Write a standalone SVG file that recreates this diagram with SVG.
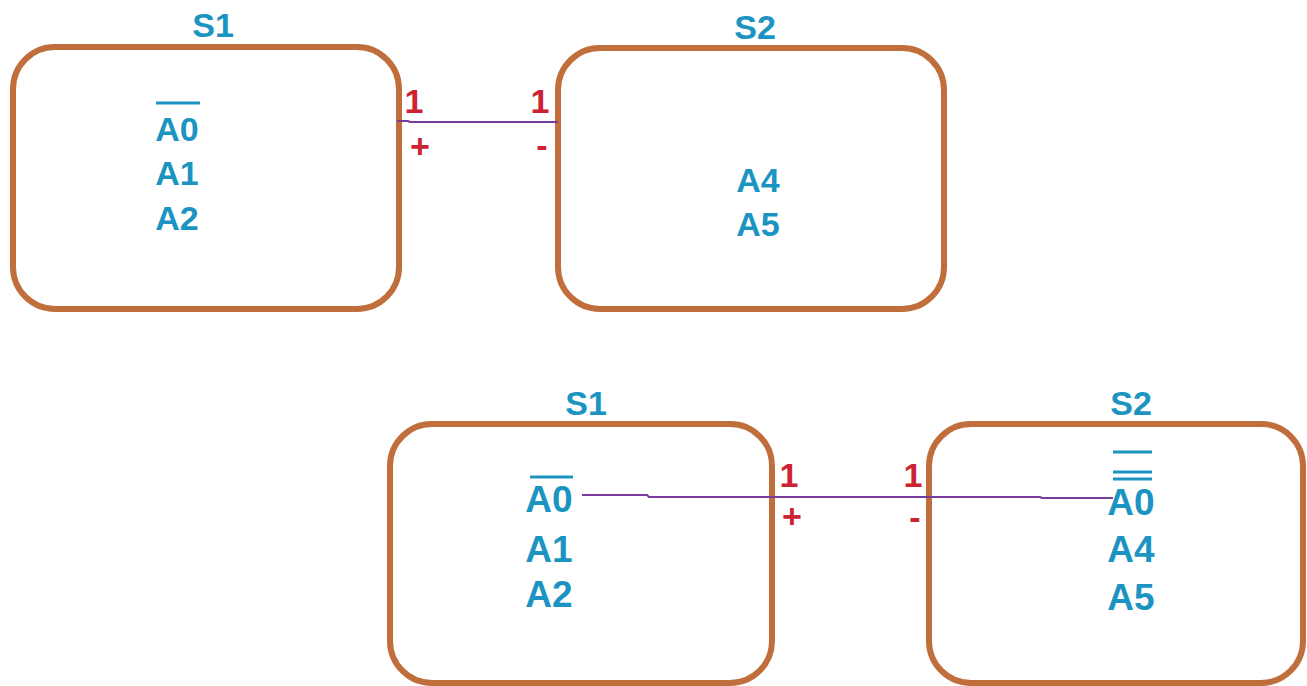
<svg xmlns="http://www.w3.org/2000/svg" width="1307" height="686" viewBox="0 0 1307 686">
<style>
.box{fill:none;stroke:#c06f3c;stroke-width:6}
.t{font-family:"Liberation Sans",Arial,sans-serif;font-weight:bold;font-size:34px;fill:#1c94c2;text-anchor:middle}
.tb{font-size:37px}
.r{font-family:"Liberation Sans",Arial,sans-serif;font-weight:bold;font-size:34px;fill:#cc2233;text-anchor:middle}
.ov{stroke:#1c94c2;stroke-width:3}
.c{fill:none;stroke:#7a3c9c;stroke-width:2}
</style>
<rect width="1307" height="686" fill="#fff"/>
<g id="top-s1">
<rect class="box" x="13" y="47" width="386" height="262" rx="42"/>
<text class="t" x="213" y="37">S1</text>
<line class="ov" x1="156" y1="103" x2="200" y2="103"/>
<text class="t" x="177" y="141">A0</text>
<text class="t" x="177" y="185">A1</text>
<text class="t" x="177" y="230">A2</text>
</g>
<g id="top-s2">
<rect class="box" x="558" y="48" width="386" height="261" rx="42"/>
<text class="t" x="755" y="39">S2</text>
<text class="t" x="758" y="192">A4</text>
<text class="t" x="758" y="236">A5</text>
</g>
<g id="bot-s1">
<rect class="box" x="390" y="424" width="382" height="259" rx="42"/>
<text class="t" x="586" y="415">S1</text>
<line class="ov" x1="530" y1="477" x2="573" y2="477"/>
<text class="t tb" x="549" y="512">A0</text>
<text class="t tb" x="549" y="562">A1</text>
<text class="t tb" x="549" y="607">A2</text>
</g>
<g id="bot-s2">
<rect class="box" x="929" y="424" width="374" height="259" rx="42"/>
<text class="t" x="1131" y="415">S2</text>
<line class="ov" x1="1113" y1="452" x2="1152" y2="452"/>
<line class="ov" x1="1113" y1="472" x2="1152" y2="472"/>
<line class="ov" x1="1113" y1="479" x2="1152" y2="479"/>
<text class="t tb" x="1131" y="515">A0</text>
<text class="t tb" x="1131" y="562">A4</text>
<text class="t tb" x="1131" y="610">A5</text>
</g>
<g id="connectors">
<polyline class="c" points="397,121 408,121 410,122 558,122"/>
<text class="r" x="414" y="113">1</text>
<text class="r" x="540" y="113">1</text>
<text class="r" x="420" y="158">+</text>
<text class="r" x="542" y="157">-</text>
<polyline class="c" points="582,495 647,495 649,497 1040,497 1042,498 1113,498"/>
<text class="r" x="789" y="487">1</text>
<text class="r" x="913" y="487">1</text>
<text class="r" x="792" y="528">+</text>
<text class="r" x="915" y="529">-</text>
</g>
</svg>
